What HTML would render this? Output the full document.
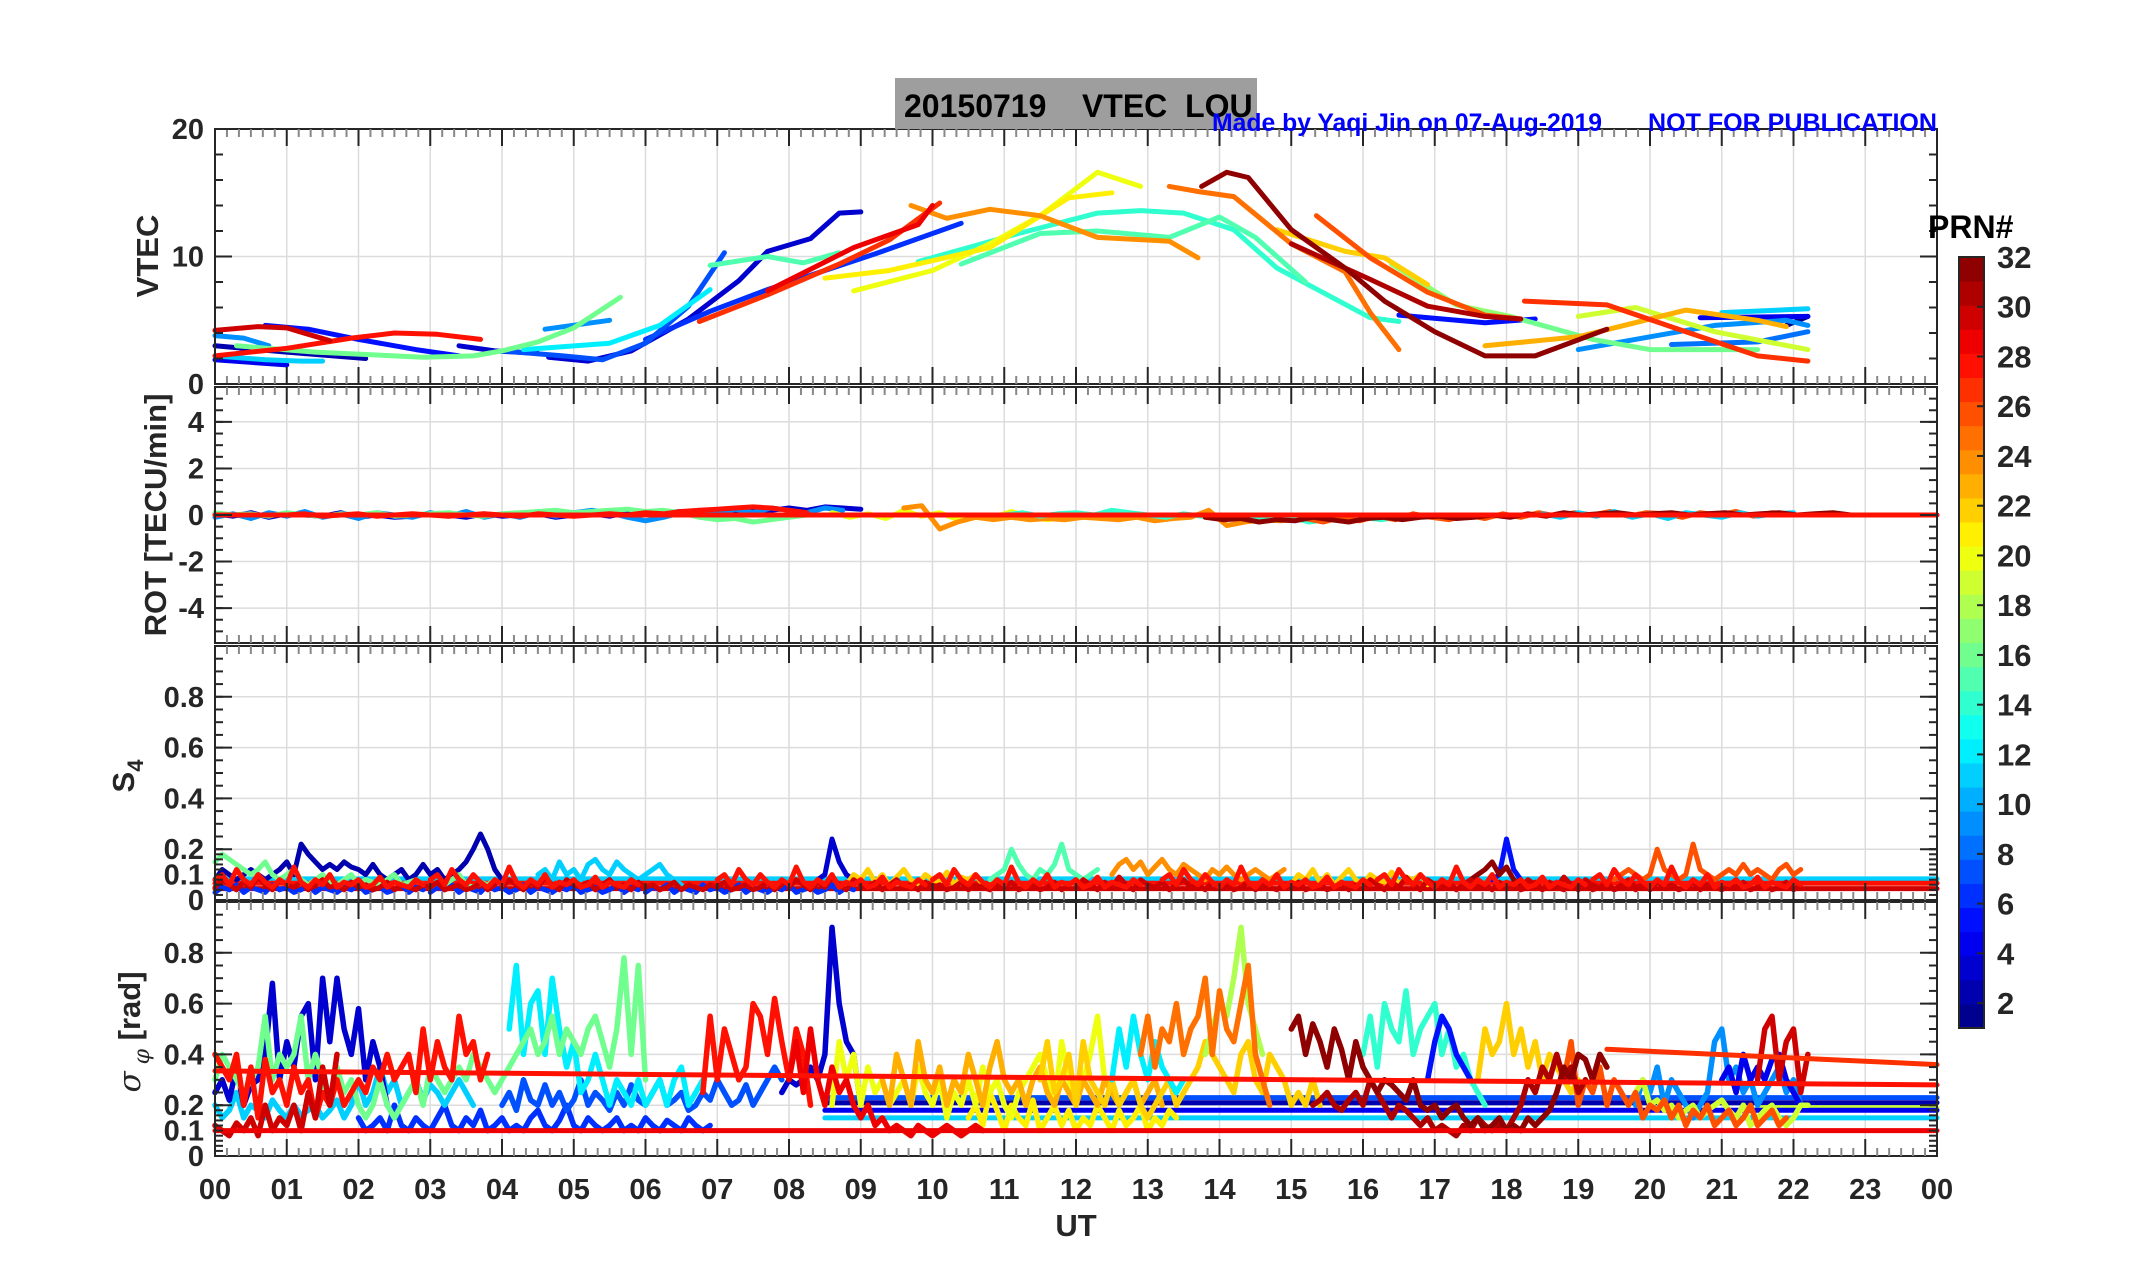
<!DOCTYPE html>
<html><head><meta charset="utf-8"><style>
html,body{margin:0;padding:0;background:#fff;}
svg{display:block;}
text{font-family:"Liberation Sans Narrow","Liberation Sans",sans-serif;font-weight:bold;}
</style></head><body>
<svg id="fig" width="2153" height="1286" viewBox="0 0 2153 1286" xmlns="http://www.w3.org/2000/svg">
<rect x="0" y="0" width="2153" height="1286" fill="#fff"/>
<g id="grids"></g>
<g id="marks"></g>
<g id="axes"></g>
<rect x="895" y="78" width="362" height="51" fill="#9e9e9e"/>
<text x="904" y="117" font-size="32" fill="#000" xml:space="preserve">20150719    VTEC  LOU</text>
<text x="1212" y="131" font-size="25" fill="#0000ff" textLength="390" lengthAdjust="spacingAndGlyphs">Made by Yaqi Jin on 07-Aug-2019</text>
<text x="1648" y="131" font-size="25" fill="#0000ff" textLength="289" lengthAdjust="spacingAndGlyphs">NOT FOR PUBLICATION</text>
<text transform="translate(158,256) rotate(-90)" text-anchor="middle" font-size="31" fill="#262626">VTEC</text>
<text transform="translate(166,515) rotate(-90)" text-anchor="middle" font-size="31" fill="#262626">ROT [TECU/min]</text>
<text transform="translate(134,776) rotate(-90)" text-anchor="middle" font-size="31" fill="#262626">S<tspan font-size="22" dy="9">4</tspan></text>
<text transform="translate(140,1032) rotate(-90)" text-anchor="middle" font-size="31" fill="#262626"><tspan font-family="DejaVu Serif" font-style="italic" font-weight="normal">σ</tspan><tspan font-size="22" dy="9" font-family="DejaVu Serif" font-style="italic" font-weight="normal"> φ</tspan><tspan dy="-9"> [rad]</tspan></text>
<text x="1076" y="1236" text-anchor="middle" font-size="31" fill="#262626">UT</text>
<g id="cbar"></g>
<text x="1928" y="238" font-size="32" fill="#000">PRN#</text>
</svg>
<script>
// ---------- DATA ----------
const hourTicks = ["00","01","02","03","04","05","06","07","08","09","10","11","12","13","14","15","16","17","18","19","20","21","22","23","00"];
const vtecTicks = [0,10,20];
const rotTicks = [-4,-2,0,2,4];
const s4Ticks = [0,0.1,0.2,0.4,0.6,0.8];
const sigTicks = [0,0.1,0.2,0.4,0.6,0.8];
const cbarTicks = [2,4,6,8,10,12,14,16,18,20,22,24,26,28,30,32];

// VTEC tracks: [hour, TECU]
const v2=[[0,3.0],[1,2.5],[2.1,2.0]];
const v5a=[[0.7,4.6],[1.3,4.3],[2,3.5],[2.8,2.7],[3.4,2.2]];
const v4a=[[0,1.9],[1.0,1.5]];
const v9a=[[0,3.8],[0.4,3.6],[0.75,3.0]];
const v11a=[[0,2.2],[0.7,1.9],[1.2,1.8],[1.5,1.8]];
const v16a=[[0.3,3.0],[1.4,2.5],[2.9,2.1],[3.6,2.2],[4.0,2.6],[4.5,3.3],[5.0,4.4],[5.65,6.8]];
const v28a=[[0,2.2],[1,2.8],[1.9,3.6],[2.5,4.0],[3.1,3.9],[3.7,3.5]];
const v30a=[[0,4.2],[0.6,4.5],[1.0,4.4],[1.3,3.9],[1.6,3.4]];
const v3a=[[3.4,3.0],[3.9,2.6],[4.5,2.4]];
const v7=[[4.0,2.6],[4.85,2.2],[5.4,1.9],[6.0,3.2],[6.6,6.1],[7.1,10.3]];
const v3b=[[4.65,2.1],[5.2,1.8],[5.8,2.6],[6.6,5.1],[7.3,8.1],[7.7,10.4],[8.3,11.4],[8.7,13.4],[9.0,13.5]];
const v9b=[[4.6,4.3],[5.5,5.0]];
const v12a=[[4.3,2.7],[5.5,3.2],[6.2,4.6],[6.9,7.4]];
const v6=[[6.0,3.5],[6.9,5.7],[7.7,7.4],[8.5,8.9],[9.2,10.2],[10.4,12.6]];
const v15a=[[6.9,9.3],[7.7,10.0],[8.2,9.5],[8.7,10.3]];
const v27a=[[6.75,4.9],[7.7,7.0],[8.7,9.4],[9.4,11.3],[10.1,14.2]];
const v29a=[[7.7,7.3],[8.9,10.7],[9.8,12.5],[10.0,14.0]];
const v20=[[8.9,7.3],[10.0,8.9],[10.8,11.0],[11.5,13.2],[12.3,16.6],[12.9,15.5]];
const v21=[[8.5,8.3],[9.4,8.9],[10.8,10.7],[11.9,14.6],[12.5,15.0]];
const v24=[[9.7,14.0],[10.2,13.0],[10.8,13.7],[11.5,13.2],[12.3,11.5],[13.3,11.2],[13.7,9.9]];
const v14=[[9.8,9.6],[11.2,11.8],[12.3,13.4],[12.9,13.6],[13.5,13.4],[14.2,12.1],[14.8,9.1],[15.4,7.3],[16.1,5.2],[16.5,4.9]];
const v15b=[[10.4,9.4],[11.5,11.8],[12.3,12.0],[13.3,11.5],[14.0,13.1],[14.5,11.5],[15.2,8.0]];
const v32=[[13.75,15.5],[14.1,16.6],[14.4,16.2],[15.0,12.1],[15.75,9.1],[16.3,6.5],[17.0,4.1],[17.7,2.2],[18.4,2.2],[19.4,4.3]];
const v25=[[13.3,15.5],[13.7,15.1],[14.2,14.7],[15.0,11.0],[15.75,8.8],[16.1,5.6],[16.5,2.7]];
const v26=[[15.35,13.2],[16.1,9.9],[16.9,7.2],[17.7,5.4],[18.2,5.1]];
const v22=[[14.8,12.1],[15.75,10.4],[16.3,9.9],[16.9,7.8]];
const v17=[[16.4,9.4],[17.3,6.2],[18.05,5.3]];
const v31=[[15.0,11.0],[16.1,8.2],[16.9,6.1],[17.7,5.3],[18.2,5.1]];
const v5b=[[16.5,5.4],[17.7,4.8],[18.4,5.1]];
const v27b=[[18.25,6.5],[19.4,6.2],[20.5,4.1],[21.5,2.2],[22.2,1.8]];
const v19=[[19.0,5.3],[19.8,6.0],[20.9,4.1],[22.2,2.7]];
const v23=[[17.7,3.0],[19.0,3.7],[20.5,5.8],[21.5,5.0],[21.9,4.5]];
const v16b=[[18.05,5.3],[19.2,3.5],[20.0,2.7],[21.5,2.7]];
const v9c=[[19.0,2.7],[20.0,3.7],[20.9,4.6],[21.9,5.0],[22.2,4.6]];
const v8=[[20.3,3.1],[21.5,3.3],[22.2,4.1]];
const v11b=[[21.0,5.6],[22.2,5.9]];
const v4b=[[20.7,5.2],[22.2,5.3]];
const v1=[[21.9,4.6],[22.2,5.3]];
const vtecTracks=[[1,v1],[2,v2],[3,v3a],[3,v3b],[4,v4a],[4,v4b],[5,v5a],[5,v5b],[6,v6],[7,v7],[8,v8],[9,v9a],[9,v9b],[9,v9c],[11,v11a],[11,v11b],[12,v12a],[14,v14],[15,v15a],[15,v15b],[16,v16a],[16,v16b],[17,v17],[19,v19],[20,v20],[21,v21],[22,v22],[23,v23],[24,v24],[25,v25],[26,v26],[27,v27a],[27,v27b],[28,v28a],[29,v29a],[30,v30a],[31,v31],[32,v32]];

// ROT traces: start hour, step 0.25 h, values TECU/min
const rot3=[0.05,-0.05,0.1,-0.1,0.05,0,-0.05,0.1,-0.1,0,-0.1,-0.05,0.05,0,-0.1,0.05,-0.05,0,0.05,-0.1,0,0.05,-0.05,0.1,0,0.1,0.15,0.1,0.2,0.15,0.25,0.2,0.3,0.2,0.35,0.3,0.25];
const rot16=[0.1,0,0.05,-0.05,0.1,0,-0.05,0.05,0,0.1,-0.05,0,0.05,0.1,0,-0.05,0.05,0.1,0.15,0.2,0.1,0.15,0.2,0.25,0.15,0.2,0.1,-0.1,-0.2,-0.15,-0.3,-0.2,-0.1,0];
const rot24=[0.3,0.4,-0.6,-0.3,-0.1,-0.2,-0.1,-0.2,-0.15,-0.2,-0.1,-0.15,-0.2,-0.1,-0.25,-0.15,-0.1,0.2,-0.45,-0.3,-0.2,-0.25,-0.15,-0.1,-0.2,-0.1];
const rot32=[-0.1,-0.2,-0.15,-0.3,-0.2,-0.25,-0.1,-0.2,-0.3,-0.15,-0.1,-0.2,-0.1,-0.05,-0.15,-0.1,0,-0.1,0.05,-0.05,0.1,0,0.05,0.1,0,0.05,0.1,0,0.05,0.1,0,0.05,0.1,0,0.05,0.1,0];
const rot14=[0,0.1,-0.05,0.05,0.1,0,0.2,0.1,0,-0.1,0.05,-0.05,0,-0.1,-0.2,-0.15,-0.1,-0.3,-0.2,-0.15,-0.1,-0.2,-0.1,0,-0.05,0];
const rot28=[0,0.05,-0.05,0,0.05,-0.05,0,0.05,0,-0.05,0,0.05,0,-0.05,0.05,0,-0.05,0,0.05,0,0.1,0.05,0.15,0.2,0.25,0.3,0.35,0.3,0.2,0.1];
const rot9=[-0.1,0.05,-0.15,0.1,-0.05,0.15,-0.1,0.05,-0.15,0.1,0,-0.1,0.1,-0.05,0.15,-0.1,0.05,-0.1,0.1,-0.05,0.1,0.2,0.1,-0.1,-0.25,-0.1,0.1,0.2,0.05,0.25,0.1,0.3,0.2,0.1,0.3,0.2];
const rot20=[0.1,-0.1,0.05,-0.15,0.2,-0.05,0.1,-0.2,0,-0.1,0.15,-0.1,-0.2,-0.1,0.05,-0.15,-0.05];
const rot26=[-0.15,-0.3,-0.1,-0.25,-0.05,-0.2,0.05,-0.1,-0.2,0,-0.15,0.05,-0.1,0.1,-0.05,0.1,0,0.15,-0.05,0.1,0.05,-0.1,0.1,0,0.15,-0.05,0.1,0.05];
const rot11=[0.05,-0.1,0.1,-0.05,0.15,-0.1,0.05,-0.15,0.1,0,-0.1,0.1,-0.05,0.05,0.1];
const rotTraces=[[3,0,rot3],[9,0,rot9],[16,0,rot16],[28,1.0,rot28],[20,8.6,rot20],[24,9.6,rot24],[14,11,rot14],[26,15.2,rot26],[11,18.5,rot11],[32,13.8,rot32]];
const rotFlat=[[28,0,24,0.0]];

// S4 traces: start hour, step 0.1 h
const s4_2=[0.08,0.12,0.1,0.08,0.1,0.12,0.1,0.08,0.1,0.12,0.15,0.1,0.22,0.18,0.15,0.12,0.14,0.12,0.15,0.13,0.12,0.1,0.14,0.1,0.08,0.1,0.12,0.08,0.1,0.14,0.1,0.12,0.08,0.1,0.12,0.15,0.2,0.26,0.2,0.12,0.08];
const s4_16=[0.15,0.18,0.16,0.14,0.12,0.1,0.12,0.15,0.1,0.08,0.1,0.12,0.08,0.06,0.08,0.1,0.07,0.06,0.08,0.1,0.06,0.08,0.07,0.06,0.08,0.1,0.06,0.07,0.08,0.06,0.05,0.07,0.06,0.08,0.1,0.06,0.05,0.07,0.06,0.08];
const s4_11=[0.1,0.12,0.08,0.15,0.1,0.12,0.08,0.14,0.16,0.12,0.1,0.15,0.12,0.1,0.08,0.1,0.12,0.14,0.1,0.08,0.06];
const s4_3=[0.08,0.1,0.24,0.15,0.1,0.08];
const s4_15=[0.08,0.1,0.12,0.2,0.14,0.1,0.08,0.12,0.1,0.14,0.22,0.12,0.1,0.08,0.1,0.12];
const s4_24=[0.1,0.14,0.16,0.12,0.15,0.1,0.13,0.16,0.12,0.1,0.14,0.12,0.1,0.08,0.12,0.1,0.13,0.1,0.08,0.1,0.12,0.1,0.08,0.1,0.12];
const s4_32=[0.06,0.08,0.1,0.12,0.15,0.1,0.13,0.08,0.06];
const s4_5=[0.08,0.1,0.24,0.12,0.08];
const s4_26=[0.08,0.1,0.12,0.1,0.08,0.1,0.2,0.12,0.1,0.08,0.1,0.22,0.12,0.1,0.08,0.1,0.12,0.1,0.14,0.1,0.12,0.1,0.08,0.12,0.14,0.1,0.12];
const s4_30=[0.05,0.08,0.06,0.04,0.07,0.05,0.09,0.06,0.04,0.08,0.06,0.05,0.07,0.04,0.06,0.08,0.05,0.06,0.04,0.07,0.05,0.06,0.04,0.05,0.07,0.04,0.06,0.05,0.04,0.06,0.05,0.07,0.04,0.05,0.06,0.04,0.05,0.07,0.04,0.06];
const s4_28=[0.08,0.1,0.06,0.12,0.08,0.06,0.1,0.07,0.05,0.08,0.06,0.13,0.07,0.05,0.08,0.06,0.1,0.05,0.07,0.06,0.08,0.05,0.06,0.09,0.05,0.07,0.06,0.05,0.08,0.06];
const s4_6=[0.03,0.05,0.04,0.06,0.03,0.05,0.04,0.03,0.06,0.04,0.05,0.03,0.04,0.06,0.03,0.05,0.04,0.03,0.05,0.04,0.06,0.03,0.04,0.05,0.03,0.04,0.06,0.03,0.05,0.04];
const s4_22=[0.06,0.1,0.08,0.12,0.07,0.1,0.06,0.09,0.12,0.08,0.06,0.1,0.08,0.07,0.11,0.06,0.09,0.08,0.1,0.06];
const s4Traces=[[6,0,s4_6],[6,3.0,s4_6],[6,6.0,s4_6],[2,0,s4_2],[16,0,s4_16],[11,4.5,s4_11],[3,8.4,s4_3],[22,8.8,s4_22],[15,10.8,s4_15],[24,12.5,s4_24],[22,15.0,s4_22],[26,19.5,s4_26],[5,17.8,s4_5],[32,17.4,s4_32],[30,0,s4_30],[30,4.0,s4_30],[30,8.0,s4_30],[30,12.0,s4_30],[30,16.0,s4_30],[30,18.2,s4_30],[28,0,s4_28],[28,3.0,s4_28],[28,7.0,s4_28],[28,10.0,s4_28],[28,13.2,s4_28],[28,16.2,s4_28],[28,19.2,s4_28]];
// S4 connecting lines: prn, t0, t1, value
const s4Flat=[[11,0,24,0.083],[28,0,24,0.066],[30,0,24,0.045]];

// sigma-phi traces: start hour, step 0.1 h
const sg3a=[0.25,0.3,0.22,0.35,0.2,0.28,0.3,0.4,0.68,0.3,0.45,0.35,0.55,0.6,0.3,0.7,0.45,0.7,0.5,0.4,0.58,0.3,0.45,0.35,0.2];
const sg3b=[0.25,0.3,0.28,0.3,0.35,0.3,0.4,0.9,0.6,0.45,0.4,0.2];
const sg6=[0.15,0.1,0.12,0.15,0.1,0.2,0.12,0.1,0.15,0.12,0.1,0.15,0.2,0.12,0.1,0.15,0.12,0.18,0.1,0.12,0.15,0.1,0.12,0.1,0.15,0.18,0.12,0.1,0.14,0.2,0.12,0.1,0.15,0.12,0.1,0.12,0.15,0.1,0.12,0.1,0.15,0.12,0.1,0.14,0.12,0.1,0.15,0.12,0.1,0.12];
const sg7=[0.2,0.25,0.18,0.3,0.22,0.2,0.28,0.2,0.25,0.18,0.22,0.3,0.2,0.25,0.22,0.18,0.25,0.2,0.28,0.22,0.2,0.25,0.3,0.2,0.22,0.25,0.18,0.2,0.25,0.22,0.3,0.25,0.2,0.22,0.28,0.2,0.25,0.3,0.35,0.3];
const sg16=[0.3,0.4,0.35,0.3,0.25,0.3,0.35,0.55,0.3,0.4,0.35,0.4,0.55,0.3,0.4,0.3,0.2,0.35,0.25,0.3,0.2,0.15,0.2,0.3,0.2,0.15,0.2,0.25,0.3,0.2,0.35,0.3,0.25,0.3,0.35,0.3,0.4,0.35,0.3,0.25,0.3,0.35,0.4,0.45,0.5,0.4,0.45,0.55,0.4,0.5,0.45,0.4,0.5,0.55,0.45,0.35,0.5,0.78,0.4,0.75,0.3];
const sg11=[0.2,0.15,0.18,0.25,0.15,0.2,0.18,0.15,0.22,0.18,0.15,0.2,0.16,0.18,0.2,0.15,0.18,0.22,0.15,0.2,0.3,0.2,0.25,0.35,0.25,0.3,0.2,0.25,0.3,0.22,0.28,0.25,0.2,0.25,0.3,0.25,0.2];
const sg28=[0.4,0.35,0.3,0.4,0.2,0.35,0.15,0.38,0.25,0.3,0.2,0.35,0.25,0.3,0.15,0.25,0.2,0.3,0.2,0.25,0.3,0.25,0.35,0.3,0.4,0.3,0.35,0.4,0.25,0.5,0.3,0.45,0.35,0.3,0.55,0.4,0.45,0.3,0.4];
const sg28b=[0.25,0.55,0.3,0.5,0.4,0.3,0.35,0.6,0.55,0.4,0.62,0.45,0.3,0.5,0.4,0.2];
const sg30=[0.12,0.1,0.08,0.13,0.1,0.15,0.08,0.2,0.1,0.15,0.12,0.2,0.1,0.25,0.15,0.35,0.2,0.4];
const sg29=[0.3,0.45,0.25,0.5,0.3,0.2,0.35,0.25,0.3,0.2,0.15,0.2,0.12,0.15,0.1,0.12,0.1,0.08,0.12,0.1,0.08,0.1,0.12,0.1,0.08,0.1,0.12,0.1];
const sg12=[0.5,0.75,0.4,0.6,0.65,0.4,0.7,0.5,0.35,0.45,0.25,0.3,0.4,0.3,0.2,0.3,0.25,0.2,0.3,0.2,0.25,0.3,0.2,0.3,0.35,0.2,0.25,0.3];
const sg20=[0.2,0.45,0.3,0.4,0.2,0.35,0.25,0.3,0.2,0.25,0.3,0.2,0.35,0.25,0.2,0.3,0.15,0.25,0.2,0.3,0.2,0.35,0.25,0.3,0.2,0.15,0.25,0.3,0.35,0.4,0.3,0.2,0.45,0.3,0.2,0.3,0.4,0.55,0.3];
const sg21=[0.15,0.2,0.12,0.25,0.18,0.1,0.2,0.15,0.12,0.22,0.1,0.15,0.2,0.12,0.18,0.1,0.15,0.12,0.2,0.15,0.1,0.18,0.12,0.15,0.2,0.1,0.15,0.12,0.18,0.15];
const sg23=[0.3,0.2,0.4,0.3,0.2,0.45,0.3,0.25,0.35,0.2,0.3,0.25,0.4,0.3,0.2,0.35,0.45,0.3,0.25,0.3,0.2,0.3,0.35,0.25,0.2,0.3,0.25,0.2,0.3,0.25,0.2,0.3,0.25,0.2,0.25,0.3,0.2,0.25,0.3,0.2];
const sg22=[0.3,0.45,0.25,0.3,0.4,0.2,0.45,0.3,0.25,0.2,0.3,0.2,0.25,0.3,0.2,0.15,0.2,0.25,0.3,0.2,0.25,0.3,0.35,0.45,0.4,0.35,0.3,0.25,0.4,0.45,0.3,0.25,0.4,0.35,0.3,0.2,0.25,0.2,0.3,0.2];
const sg12b=[0.3,0.5,0.35,0.55,0.4,0.3,0.45,0.35,0.3,0.25,0.3];
const sg25=[0.4,0.55,0.35,0.5,0.45,0.6,0.4,0.5,0.55,0.7,0.4,0.65,0.5,0.45,0.6,0.75,0.4,0.3,0.2];
const sg18=[0.4,0.5,0.6,0.55,0.7,0.9,0.6,0.5,0.4];
const sg32=[0.5,0.55,0.4,0.52,0.45,0.35,0.5,0.42,0.3,0.45,0.35,0.3,0.25,0.3,0.28,0.25,0.22,0.3,0.2,0.18,0.2,0.15,0.18,0.2,0.15,0.12,0.15,0.1,0.12,0.15,0.1,0.12,0.1,0.15,0.12,0.15,0.18,0.25,0.35,0.3,0.4,0.38,0.3,0.4,0.35];
const sg31=[0.2,0.22,0.25,0.2,0.18,0.22,0.25,0.2,0.3,0.25,0.2,0.15,0.2,0.18,0.15,0.12,0.15,0.1,0.12,0.1,0.08,0.12,0.1,0.15,0.12,0.1,0.12,0.1,0.15,0.2,0.3,0.25,0.35,0.3,0.4,0.3,0.35,0.25,0.3];
const sg14=[0.4,0.55,0.35,0.6,0.5,0.45,0.65,0.4,0.5,0.55,0.6,0.4,0.5,0.35,0.4,0.3,0.25,0.2];
const sg5=[0.3,0.45,0.55,0.5,0.4,0.35,0.3];
const sg22b=[0.3,0.5,0.4,0.45,0.6,0.4,0.5,0.35,0.45,0.3,0.4,0.35,0.3,0.25,0.3];
const sg26=[0.3,0.45,0.2,0.3,0.25,0.35,0.2,0.3,0.25,0.2,0.25,0.15,0.2,0.18,0.22,0.15,0.2,0.12,0.18,0.15,0.2,0.12,0.15,0.18,0.12,0.15,0.2,0.12,0.15,0.18,0.12,0.15];
const sg9=[0.2,0.3,0.25,0.35,0.2,0.3,0.25,0.2,0.15,0.2,0.25,0.45,0.5,0.3,0.35,0.25,0.3,0.2,0.25,0.3,0.35,0.25,0.3,0.2];
const sg4=[0.3,0.35,0.25,0.4,0.3,0.35,0.3,0.38,0.4,0.3,0.25,0.2];
const sg30b=[0.3,0.5,0.55,0.3,0.45,0.5,0.25,0.4];
const sg19=[0.2,0.25,0.3,0.2,0.22,0.18,0.2,0.15,0.18,0.2,0.15,0.18,0.2,0.22,0.18,0.15,0.2,0.12,0.15,0.18,0.2,0.15,0.12,0.15,0.2,0.2];
const sigTraces=[[6,2.0,sg6],[7,4.0,sg7],[11,0,sg11],[3,0,sg3a],[3,7.9,sg3b],[12,4.1,sg12],[16,0,sg16],[21,10.5,sg21],[20,8.6,sg20],[23,9.3,sg23],[22,11.5,sg22],[12,12.5,sg12b],[18,13.8,sg18],[25,12.9,sg25],[14,16.0,sg14],[5,16.9,sg5],[22,17.6,sg22b],[9,19.8,sg9],[4,21.0,sg4],[19,19.7,sg19],[26,18.8,sg26],[28,0,sg28],[28,6.8,sg28b],[30,0,sg30],[29,8.0,sg29],[31,15.3,sg31],[32,15.0,sg32],[30,21.5,sg30b]];
// sigma connecting lines: prn, t0, v0, t1, v1
const sigFlat=[[7,8.5,0.23,24,0.23],[2,8.5,0.21,24,0.21],[19,21.5,0.19,24,0.19],[4,8.5,0.18,24,0.18],[11,8.5,0.15,24,0.15],[29,0,0.1,24,0.1],[28,0,0.335,24,0.28],[27,19.4,0.42,24,0.36]];

// ---------- LAYOUT ----------
const NS="http://www.w3.org/2000/svg";
const X0=215, X1=1937;
const panels=[
 {name:"vtec",top:129,bot:384,min:0,max:20},
 {name:"rot",top:387,bot:643,min:-5.5,max:5.5},
 {name:"s4",top:646,bot:900,min:0,max:1},
 {name:"sigma",top:902,bot:1156,min:0,max:1}];
function xs(h){return X0+h*(X1-X0)/24;}
function ys(p,v){return p.bot-(v-p.min)/(p.max-p.min)*(p.bot-p.top);}
function jet(i){const x=(i-0.5)/32;const c=t=>Math.round(255*Math.max(0,Math.min(1,t)));
 return "rgb("+c(1.5-Math.abs(4*x-3))+","+c(1.5-Math.abs(4*x-2))+","+c(1.5-Math.abs(4*x-1))+")";}
function mk(tag,attrs,parent){const e=document.createElementNS(NS,tag);for(const k in attrs)e.setAttribute(k,attrs[k]);parent.appendChild(e);return e;}
const G=document.getElementById("grids"),M=document.getElementById("marks"),A=document.getElementById("axes"),CB=document.getElementById("cbar");

// grids
panels.forEach(p=>{
 for(let h=1;h<24;h++){const l=mk("line",{x1:xs(h),x2:xs(h),y1:p.top,y2:p.bot,stroke:"#dcdcdc","stroke-width":1.5},G);
  
  }
 const gt=p.name=="vtec"?[10]:p.name=="rot"?rotTicks:[0.2,0.4,0.6,0.8];
 gt.forEach(v=>{const l=mk("line",{x1:X0,x2:X1,y1:ys(p,v),y2:ys(p,v),stroke:"#dcdcdc","stroke-width":1.5},G);
  
  });
});

function poly(pts,color,w,name){const el=mk("polyline",{points:pts.map(q=>q[0].toFixed(1)+","+q[1].toFixed(1)).join(" "),fill:"none",stroke:color,"stroke-width":w,"stroke-linejoin":"round","stroke-linecap":"round"},M);
 
 }

// VTEC
vtecTracks.forEach(t=>poly(t[1].map(d=>[xs(d[0]),ys(panels[0],d[1])]),jet(t[0]),5,"vtec-prn"+t[0]));
// ROT
rotTraces.forEach(t=>poly(t[2].map((v,i)=>[xs(t[1]+i*0.25),ys(panels[1],v)]),jet(t[0]),5,"rot-prn"+t[0]));
rotFlat.forEach(f=>poly([[xs(f[1]),ys(panels[1],f[3])],[xs(f[2]),ys(panels[1],f[3])]],jet(f[0]),5,"rot-line-prn"+f[0]));
// S4
s4Flat.forEach(f=>poly([[xs(f[1]),ys(panels[2],f[3])],[xs(f[2]),ys(panels[2],f[3])]],jet(f[0]),5,"s4-line-prn"+f[0]));
s4Traces.forEach(t=>poly(t[2].map((v,i)=>[xs(t[1]+i*0.1),ys(panels[2],v)]),jet(t[0]),5,"s4-prn"+t[0]));
// sigma
sigFlat.filter(f=>f[0]<25).forEach(f=>poly([[xs(f[1]),ys(panels[3],f[2])],[xs(f[3]),ys(panels[3],f[4])]],jet(f[0]),5,"sigma-line-prn"+f[0]));
sigTraces.forEach(t=>poly(t[2].map((v,i)=>[xs(t[1]+i*0.1),ys(panels[3],v)]),jet(t[0]),5.5,"sigma-prn"+t[0]));
sigFlat.filter(f=>f[0]>=25).forEach(f=>poly([[xs(f[1]),ys(panels[3],f[2])],[xs(f[3]),ys(panels[3],f[4])]],jet(f[0]),5,"sigma-line-prn"+f[0]));

// axes boxes and ticks
function tk(x1,y1,x2,y2,c,w){const l=mk("line",{x1:x1,y1:y1,x2:x2,y2:y2,stroke:c,"stroke-width":w},A);
 
 }
function lab(x,y,s,anchor,name){const t=mk("text",{x:x,y:y,"text-anchor":anchor,"font-size":29,fill:"#262626"},A);t.textContent=s;
 
 }
panels.forEach((p,pi)=>{
 const r=mk("rect",{x:X0,y:p.top,width:X1-X0,height:p.bot-p.top,fill:"none",stroke:"#262626","stroke-width":2},A);
 
 
 for(let k=0;k<=144;k++){const x=xs(k/6),maj=k%6==0,L=maj?17:8,c=maj?"#262626":"#888";
  tk(x,p.top,x,p.top+L,c,2);tk(x,p.bot,x,p.bot-L,c,2);}
 let minors=[],majors=[];
 if(p.name=="vtec"){for(let v=0;v<=20;v+=2)minors.push(v);majors=vtecTicks;}
 else if(p.name=="rot"){for(let v=-5.5;v<=5.5;v+=0.5)minors.push(v);majors=rotTicks;}
 else{for(let v=0;v<0.2;v+=0.02)minors.push(v);for(let v=0.2;v<=1;v+=0.05)minors.push(v);majors=[0.2,0.4,0.6,0.8];}
 minors.forEach(v=>{const y=ys(p,v);tk(X0,y,X0+8,y,"#262626",2);tk(X1,y,X1-8,y,"#262626",2);});
 majors.forEach(v=>{const y=ys(p,v);tk(X0,y,X0+17,y,"#262626",2);tk(X1,y,X1-17,y,"#262626",2);});
 const labs=p.name=="vtec"?vtecTicks:p.name=="rot"?rotTicks:p.name=="s4"?s4Ticks:sigTicks;
 labs.forEach(v=>lab(204,ys(p,v)+10,String(v),"end",p.name+"-tick-label"));
});
hourTicks.forEach((s,i)=>lab(xs(i),1199,s,"middle","x-tick-label"));

// colorbar
const CBX=1959,CBW=25,CBT=257,CBB=1028;
for(let i=1;i<=32;i++){const h=(CBB-CBT)/32;const r=mk("rect",{x:CBX,y:CBB-i*h,width:CBW,height:h+0.5,fill:jet(i)},CB);
 
 }
const fr=mk("rect",{x:CBX,y:CBT,width:CBW,height:CBB-CBT,fill:"none",stroke:"#262626","stroke-width":2},CB);


cbarTicks.forEach(v=>{const y=CBB-(v-1)*(CBB-CBT)/31;
 const l=mk("line",{x1:CBX+CBW-7,x2:CBX+CBW,y1:y,y2:y,stroke:"#262626","stroke-width":2},CB);
 
 
 const t=mk("text",{x:1997,y:y+11,"font-size":31,fill:"#262626"},CB);t.textContent=String(v);
 
 });
</script>
</body></html>
